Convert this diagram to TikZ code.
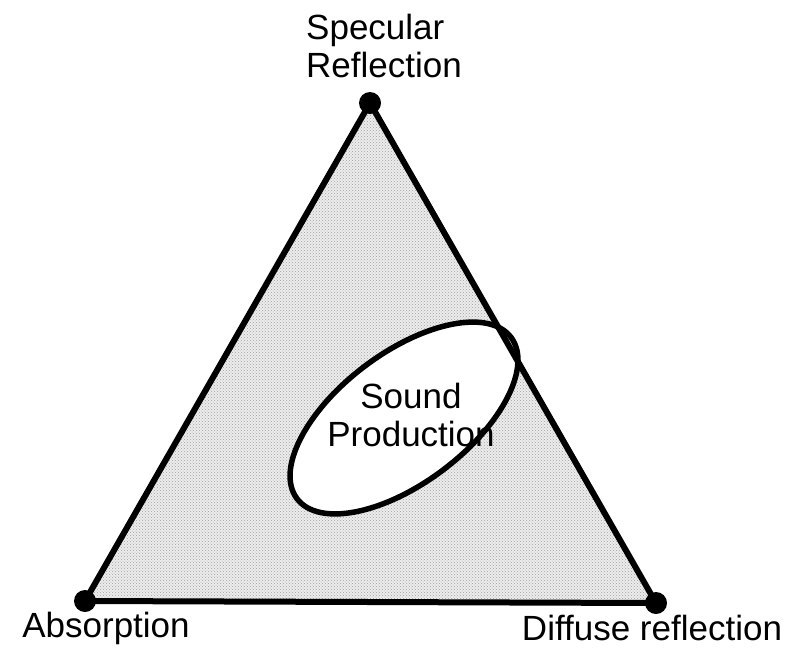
\documentclass[tikz,border=0pt]{standalone}
\usepackage{fontspec}
\setmainfont{Liberation Sans}
\usetikzlibrary{patterns}
\begin{document}
\begin{tikzpicture}[x=1pt,y=-1pt,
  lbl/.style={font=\fontsize{35}{38}\selectfont, inner sep=0pt},
  vdot/.style={circle, fill=black, minimum size=22pt, inner sep=0pt},
  edge/.style={line width=6pt, line join=round}]
\useasboundingbox[fill=white] (0,0) rectangle (794,651);
\coordinate (T) at (370,103);
\coordinate (L) at (85,601);
\coordinate (R) at (656,603);
% triangle fill
\fill[gray!14] (T) -- (L) -- (R) -- cycle;
\fill[pattern=crosshatch dots, pattern color=gray!75] (T) -- (L) -- (R) -- cycle;
% ellipse fill
\fill[white, rotate around={37:(404,418)}] (404,418) ellipse [x radius=134, y radius=65];
% triangle edges
\draw[edge] (T) -- (L) -- (R) -- cycle;
% ellipse outline
\draw[line width=5.5pt, rotate around={37:(404,418)}] (404,418) ellipse [x radius=134, y radius=65];
% vertex dots
\node[vdot] (dT) at (T) {};
\node[vdot] (dL) at (L) {};
\node[vdot] (dR) at (R) {};
% labels
\node[lbl, align=left, anchor=north west] (spec) at (306,14) {Specular\\Reflection};
\node[lbl] (abs) at (106,628) {Absorption};
\node[lbl] (dif) at (652,628) {Diffuse reflection};
\node[lbl, align=center] (snd) at (411,415) {Sound\\Production};
\end{tikzpicture}
\end{document}
